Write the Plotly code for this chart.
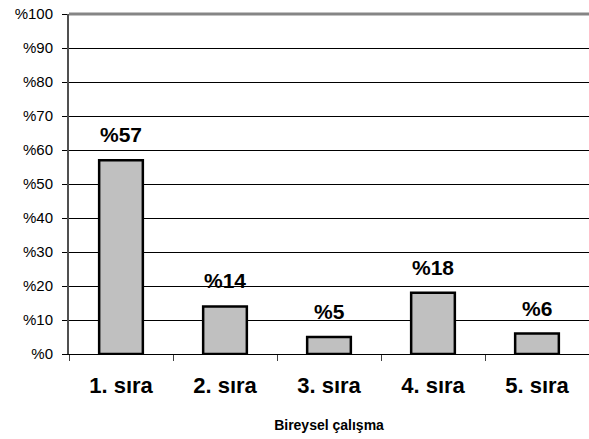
import plotly.graph_objects as go

# Data
categories = ["1. sıra", "2. sıra", "3. sıra", "4. sıra", "5. sıra"]
values = [57, 14, 5, 18, 6]
tick_vals = list(range(0, 101, 10))
tick_text = ["%" + str(v) for v in tick_vals]

FONT = "Arial, Liberation Sans, sans-serif"

fig = go.Figure(
    data=[
        go.Bar(
            x=categories,
            y=values,
            width=0.42,
            marker=dict(color="#C0C0C0", line=dict(color="black", width=2.5)),
            hoverinfo="x+y",
        )
    ]
)

# value labels above bars
for cat, val in zip(categories, values):
    fig.add_annotation(
        x=cat,
        y=val,
        text="<b>%" + str(val) + "</b>",
        showarrow=False,
        yanchor="bottom",
        yshift=12,
        font=dict(family=FONT, size=21, color="black"),
    )

# gray top border of plot area
fig.add_shape(
    type="line", xref="paper", yref="paper", x0=0, x1=1, y0=1, y1=1,
    line=dict(color="#858585", width=3),
)

fig.update_layout(
    width=589,
    height=439,
    margin=dict(l=69, r=0, t=14, b=85),
    plot_bgcolor="white",
    paper_bgcolor="white",
    font=dict(family=FONT, color="black"),
    showlegend=False,
    xaxis=dict(
        range=[-0.5, 4.5],
        ticks="outside",
        tickson="boundaries",
        ticklen=6,
        tickcolor="#404040",
        tickfont=dict(size=22, color="black", weight="bold"),
        ticklabelstandoff=12,
        showline=True,
        linecolor="black",
        linewidth=1,
        showgrid=False,
        title=dict(text="<b>Bireysel çalışma</b>", font=dict(size=14), standoff=22),
    ),
    yaxis=dict(
        range=[0, 100],
        tickvals=tick_vals,
        ticktext=tick_text,
        ticks="outside",
        ticklen=5,
        tickcolor="black",
        tickfont=dict(size=15, color="black"),
        ticklabelstandoff=6,
        showgrid=True,
        gridcolor="black",
        gridwidth=1,
        showline=True,
        linecolor="#505050",
        linewidth=2,
        zeroline=False,
    ),
)

# remove the default page margin so the figure sits at the window origin
fig.write_html(
    "out.html",
    config={"displayModeBar": False},
    post_script="document.body.style.margin='0';",
)
